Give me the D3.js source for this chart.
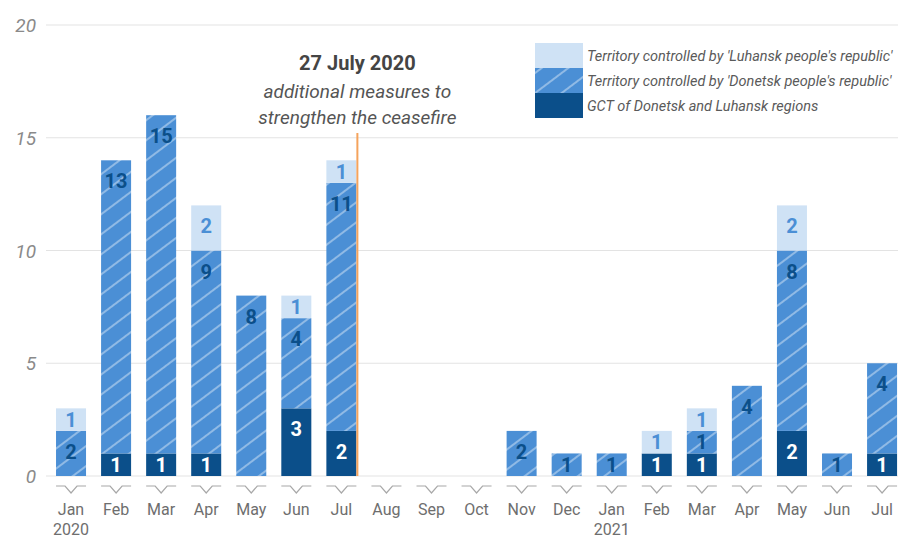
<!DOCTYPE html>
<html>
<head>
<meta charset="utf-8">
<script src="https://cdn.jsdelivr.net/npm/d3@7"></script>
<style>
  body { margin: 0; background: #fff; }
  svg { display: block; font-family: Roboto, "Noto Sans", sans-serif; }
</style>
</head>
<body>
<div id="chart"></div>
<script>
const months = ['Jan', 'Feb', 'Mar', 'Apr', 'May', 'Jun', 'Jul', 'Aug', 'Sep', 'Oct', 'Nov', 'Dec',
  'Jan', 'Feb', 'Mar', 'Apr', 'May', 'Jun', 'Jul'];
const years = { 0: '2020', 12: '2021' };
const gct =     [0, 1, 1, 1, 0, 3, 2, 0, 0, 0, 0, 0, 0, 1, 1, 0, 2, 0, 1];
const donetsk = [2, 13, 15, 9, 8, 4, 11, 0, 0, 0, 2, 1, 1, 0, 1, 4, 8, 1, 4];
const luhansk = [1, 0, 0, 2, 0, 1, 1, 0, 0, 0, 0, 0, 0, 1, 1, 0, 2, 0, 0];
const yTicks = [0, 5, 10, 15, 20];

const series = [
  { key: 'gct', name: 'GCT of Donetsk and Luhansk regions', values: gct, fill: '#0b4f8a', label: '#ffffff' },
  { key: 'donetsk', name: "Territory controlled by 'Donetsk people's republic'", values: donetsk, fill: '#4b8fd5', label: '#0b4f8a', striped: true },
  { key: 'luhansk', name: "Territory controlled by 'Luhansk people's republic'", values: luhansk, fill: '#cfe2f5', label: '#4b8fd5' }
];

const width = 898;
const height = 538;

const svg = d3.select('#chart')
  .append('svg')
  .attr('width', width)
  .attr('height', height);

// stripes for the Donetsk series
const defs = svg.append('defs');
const pat = defs.append('pattern')
  .attr('id', 'stripes')
  .attr('patternUnits', 'userSpaceOnUse')
  .attr('width', 16)
  .attr('height', 16)
  .attr('patternTransform', 'rotate(-37)');
pat.append('rect').attr('width', 16).attr('height', 16).attr('fill', '#4b8fd5');
pat.append('line')
  .attr('x1', 0).attr('x2', 16).attr('y1', 8).attr('y2', 8)
  .attr('stroke', '#ffffff').attr('stroke-opacity', 0.55).attr('stroke-width', 1.4);

const idx = d3.range(months.length);
const x = d3.scaleBand()
  .domain(idx)
  .range([48.5, 904.6])
  .paddingInner(0.334)
  .paddingOuter(0.167);

const y = d3.scaleLinear()
  .domain([0, 20])
  .range([476, 25]);

// grid
svg.append('g')
  .selectAll('line')
  .data(yTicks)
  .join('line')
    .attr('x1', 46).attr('x2', width)
    .attr('y1', d => y(d)).attr('y2', d => y(d))
    .attr('stroke', '#e3e3e3').attr('stroke-width', 1.2);

// y labels
svg.append('g')
  .selectAll('text')
  .data(yTicks)
  .join('text')
    .attr('x', 36)
    .attr('y', d => y(d) + 7)
    .attr('text-anchor', 'end')
    .attr('font-size', 19)
    .attr('font-style', 'italic')
    .attr('fill', '#8a8a8a')
    .text(d => d);

// stack
const rows = idx.map(i => ({ i, gct: gct[i], donetsk: donetsk[i], luhansk: luhansk[i] }));
const stack = d3.stack().keys(series.map(s => s.key))(rows);

stack.forEach((layer, k) => {
  const s = series[k];
  const g = svg.append('g');
  const segs = layer.filter(d => d[1] > d[0]);
  g.selectAll('rect')
    .data(segs)
    .join('rect')
      .attr('x', d => x(d.data.i))
      .attr('y', d => y(d[1]))
      .attr('width', x.bandwidth())
      .attr('height', d => y(d[0]) - y(d[1]))
      .attr('fill', s.striped ? 'url(#stripes)' : s.fill);
  g.selectAll('text')
    .data(segs)
    .join('text')
      .attr('x', d => x(d.data.i) + x.bandwidth() / 2)
      .attr('y', d => {
        const h = y(d[0]) - y(d[1]);
        return y(d[1]) + Math.min(h / 2, 21) + 7;
      })
      .attr('text-anchor', 'middle')
      .attr('font-size', 20)
      .attr('font-weight', 'bold')
      .attr('fill', s.label)
      .text(d => d[1] - d[0]);
});

// x axis notched ticks
const axis = svg.append('g');
axis.selectAll('path')
  .data(idx)
  .join('path')
    .attr('d', i => {
      const c = x(i) + x.bandwidth() / 2;
      return `M${c - 15},486 H${c - 6} L${c},493 L${c + 6},486 H${c + 15}`;
    })
    .attr('fill', 'none')
    .attr('stroke', '#a8a8a8')
    .attr('stroke-width', 1.2);
axis.selectAll('text.month')
  .data(idx)
  .join('text')
    .attr('class', 'month')
    .attr('x', i => x(i) + x.bandwidth() / 2)
    .attr('y', 515)
    .attr('text-anchor', 'middle')
    .attr('font-size', 16)
    .attr('fill', '#6e6e6e')
    .text(i => months[i]);
axis.selectAll('text.year')
  .data(Object.keys(years).map(Number))
  .join('text')
    .attr('class', 'year')
    .attr('x', i => x(i) + x.bandwidth() / 2)
    .attr('y', 535)
    .attr('text-anchor', 'middle')
    .attr('font-size', 16)
    .attr('fill', '#6e6e6e')
    .text(i => years[i]);

// annotation
const ax = x(6) + x.bandwidth() + 1;
svg.append('line')
  .attr('x1', ax).attr('x2', ax)
  .attr('y1', 133).attr('y2', y(0))
  .attr('stroke', '#f5a35c').attr('stroke-width', 2);
const ann = svg.append('g').attr('text-anchor', 'middle').attr('fill', '#555');
ann.append('text').attr('x', ax).attr('y', 70)
  .attr('font-size', 20).attr('font-weight', 'bold').attr('fill', '#444')
  .text('27 July 2020');
ann.append('text').attr('x', ax).attr('y', 98)
  .attr('font-size', 19).attr('font-style', 'italic')
  .text('additional measures to');
ann.append('text').attr('x', ax).attr('y', 124)
  .attr('font-size', 19).attr('font-style', 'italic')
  .text('strengthen the ceasefire');

// legend
const legend = svg.append('g').attr('transform', 'translate(535,43)');
const legItems = [series[2], series[1], series[0]];
legItems.forEach((s, k) => {
  legend.append('rect')
    .attr('x', 0).attr('y', k * 25)
    .attr('width', 48).attr('height', 25)
    .attr('fill', s.striped ? 'url(#stripes)' : s.fill);
  legend.append('text')
    .attr('x', 52).attr('y', k * 25 + 18)
    .attr('font-size', 14.5)
    .attr('font-style', 'italic')
    .attr('fill', '#5a5a5a')
    .text(s.name);
});
</script>
</body>
</html>
